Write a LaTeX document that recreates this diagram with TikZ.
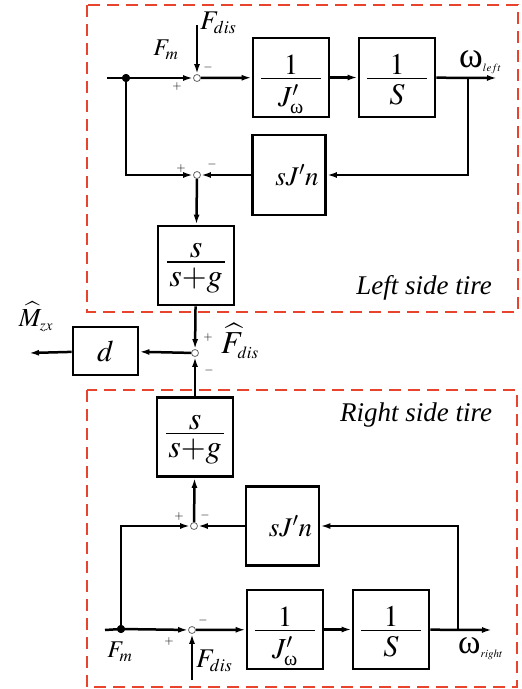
\documentclass[tikz,border=0pt]{standalone}
\usepackage{amsmath}
\usepackage{mathptmx}
\usepackage{fontspec}
\setmainfont{Liberation Serif}
\usetikzlibrary{arrows.meta}
\newcommand\sbt[2]{\hbox{\fontsize{#1}{#1}\selectfont$#2$}}
\newcommand\omg[1]{\hbox{\fontsize{#1}{#1}\selectfont ω}}
% width, height above bar, height below bar, numerator, denominator
\newcommand\boxfrac[5]{\vbox{\offinterlineskip\vbox to #2{\vfil\hbox to #1{\hfil$#4$\hfil}\kern3pt}\hrule height 1.8pt\vbox to #3{\kern5pt\hbox to #1{\hfil$#5$\hfil}\vfil}}}
\begin{document}
\begin{tikzpicture}[x=1pt,y=-1pt,
  blk/.style={draw,line width=2.8pt,minimum width=76pt,minimum height=79pt,inner sep=0pt,font=\fontsize{29}{33}\selectfont},
  sumc/.style={circle,draw=black!60,line width=0.8pt,fill=white,minimum size=7pt,inner sep=0pt},
  dotj/.style={circle,fill=black,minimum size=8pt,inner sep=0pt},
  wire/.style={line width=2.5pt},
  sig/.style={wire,-{Latex[length=10pt,width=6pt]}},
  region/.style={draw={rgb,255:red,232;green,68;blue,45},line width=2pt,dash pattern=on 12pt off 7pt},
  sgn/.style={font=\fontsize{12}{12}\selectfont,inner sep=0pt},
  lab/.style={font=\fontsize{27}{30}\selectfont,inner sep=0pt},
]
\useasboundingbox (0,0) rectangle (522,689);
% regions
\draw[region] (87,5) rectangle (518,312);
\draw[region] (87,390) rectangle (517,687);

% ---- top (left tire)
\node[blk] (tJ) at (291,77.5) {\boxfrac{60pt}{32pt}{30pt}{1}{J'_{\omg{20}}}};
\node[blk,font=\fontsize{30}{33}\selectfont] (tS) at (397,77.5) {\boxfrac{60pt}{32pt}{30pt}{1}{S}};
\node[blk,minimum width=73pt,minimum height=80pt,font=\fontsize{27}{30}\selectfont] (tsJ) at (289,175) {\hspace*{16pt}$sJ'n$};
\node[blk,font=\fontsize{32}{36}\selectfont] (tG) at (196,265.5) {\boxfrac{58pt}{28pt}{35pt}{s}{s{+}g}};
\node[sumc] (ts1) at (197,78) {};
\node[sumc] (ts2) at (197,175) {};
\node[dotj] (td) at (126,78) {};
\coordinate (tin) at (107,78);
\coordinate (tout) at (497,78);
\coordinate (ttap) at (468,78);
\coordinate (tF) at (197,25);

% ---- middle
\node[sumc] (ms) at (195,353) {};
\node[blk,minimum width=65pt,minimum height=48pt,font=\fontsize{30}{34}\selectfont] (dB) at (105.5,351) {$d$};
\coordinate (mout) at (29,353);

% ---- bottom (right tire)
\node[blk,font=\fontsize{32}{36}\selectfont] (bG) at (195,437) {\boxfrac{58pt}{28pt}{35pt}{s}{s{+}g}};
\node[blk,minimum width=73pt,minimum height=79pt,font=\fontsize{27}{30}\selectfont] (bsJ) at (282.5,526) {\hspace*{16pt}$sJ'n$};
\node[blk] (bJ) at (285,629.5) {\boxfrac{60pt}{32pt}{30pt}{1}{J'_{\omg{20}}}};
\node[blk,font=\fontsize{30}{33}\selectfont] (bS) at (391,629.5) {\boxfrac{60pt}{32pt}{30pt}{1}{S}};
\node[sumc] (bs2) at (194,526) {};
\node[sumc] (bs1) at (192,630) {};
\node[dotj] (bd) at (121,629) {};
\coordinate (bin) at (105,630);
\coordinate (bout) at (492,630);
\coordinate (btap) at (458,630);
\coordinate (bF) at (192,680);

% ---- connectors top
\draw[wire] (tin) -- (td.center);
\draw[sig] (td.center) -- (ts1);
\draw[sig] (tF) -- (ts1);
\draw[sig] (ts1) -- (tJ);
\draw[sig] (tJ) -- (tS);
\draw[sig] (tS) -- (tout);
\draw[sig] (ttap) |- (tsJ);
\draw[sig] (td.center) |- (ts2);
\draw[sig] (tsJ) -- (ts2);
\draw[sig] (ts2) -- (tG);
\draw[sig] (tG) -- (ms);
% middle
\draw[sig] (ms) -- (dB);
\draw[sig] (dB) -- (mout);
\draw[sig] (bG) -- (ms);
% bottom
\draw[sig] (bs2) -- (bG);
\draw[sig] (bsJ) -- (bs2);
\draw[sig] (btap) |- (bsJ);
\draw[sig] (bd.center) |- (bs2);
\draw[wire] (bin) -- (bd.center);
\draw[sig] (bd.center) -- (bs1);
\draw[sig] (bF) -- (bs1);
\draw[sig] (bs1) -- (bJ);
\draw[sig] (bJ) -- (bS);
\draw[sig] (bS) -- (bout);

% redraw junction dots on top
\node[dotj] at (td) {};
\node[dotj] at (bd) {};

% ---- labels
\node[lab,anchor=west] (lFdt) at (200,23) {$F_{\sbt{18}{dis}}$};
\node[lab,font=\fontsize{24}{26}\selectfont] (lFmt) at (166,50) {$F_{\sbt{17}{m}}$};
\node[lab,anchor=west] (lwl) at (459,62) {$\omg{36}_{\sbt{11}{left}}$};
\node[sgn] (p1) at (177,86) {$+$};
\node[sgn] (m1) at (208,67) {$-$};
\node[sgn] (p2) at (181,168) {$+$};
\node[sgn] (m2) at (212,164) {$-$};
\node[sgn] (p3) at (208,337) {$+$};
\node[sgn] (m3) at (209,370) {$-$};
\node[lab,font=\fontsize{32}{34}\selectfont,anchor=west] (lFh) at (221,341) {$\widehat{F}_{\sbt{17}{dis}}$};
\node[lab,font=\fontsize{26}{28}\selectfont] (lMh) at (36,317) {$\widehat{M}_{\sbt{15}{zx}}$};
\node[lab,font=\fontsize{27}{30}\selectfont\itshape] (lLeft) at (424,288) {Left side tire};
\node[lab,font=\fontsize{27}{30}\selectfont\itshape] (lRight) at (416,415) {Right side tire};
\node[sgn] (p4) at (179,516) {$+$};
\node[sgn] (m4) at (205,515) {$-$};
\node[sgn] (p5) at (169,641) {$+$};
\node[sgn] (m5) at (203,620) {$-$};
\node[lab,font=\fontsize{24}{26}\selectfont] (lFmb) at (120,652) {$F_{\sbt{17}{m}}$};
\node[lab,anchor=west] (lFdb) at (196,661) {$F_{\sbt{18}{dis}}$};
\node[lab,anchor=west] (lwr) at (458,649) {$\omg{34}_{\sbt{11}{right}}$};
\end{tikzpicture}
\end{document}
